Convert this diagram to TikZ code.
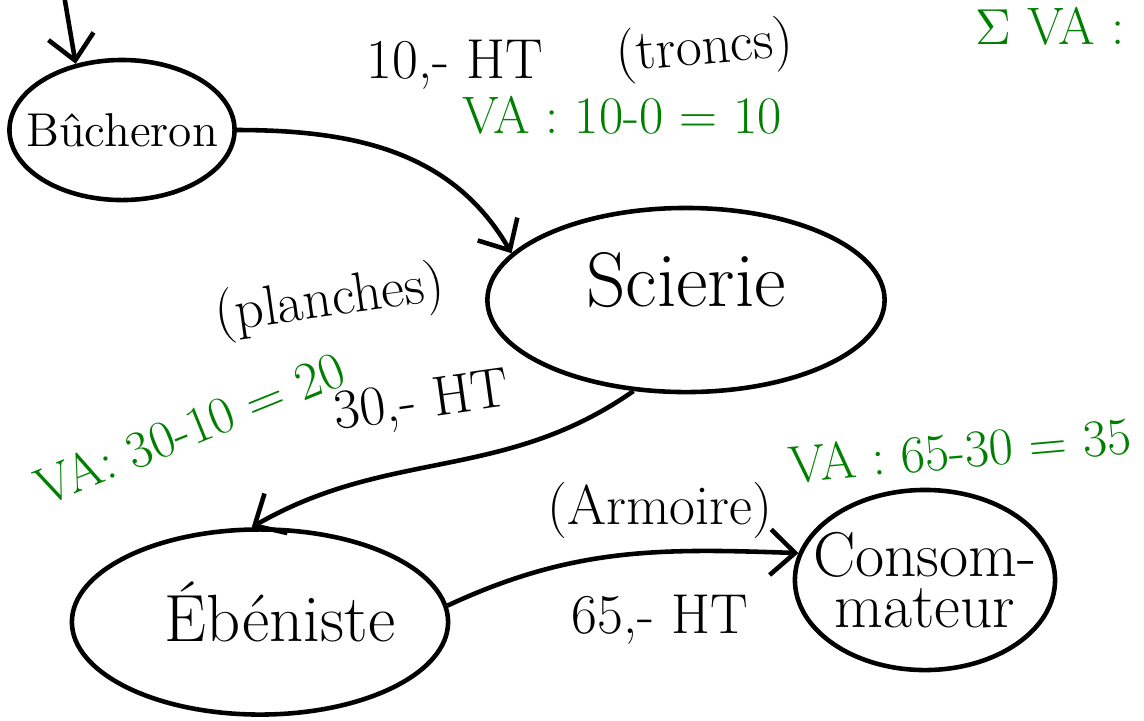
\documentclass[tikz,border=0pt]{standalone}
\usepackage{amsmath}
\usetikzlibrary{shapes.geometric,arrows.meta}
\definecolor{vagreen}{RGB}{0,128,0}
\begin{document}
\begin{tikzpicture}
  [x=0.01cm,y=-0.01cm,line width=1.3pt,
   every node/.style={font=\fontsize{16}{20}\selectfont},
   actor/.style={ellipse,draw,line width=1.3pt},
   va/.style={text=vagreen,font=\fontsize{15}{18}\selectfont},
   flow/.style={-{Straight Barb[length=7pt,width=13pt]}}]
  \useasboundingbox (0,0) rectangle (1144,720);
  \node[actor,minimum width=2.25cm,minimum height=1.4cm,
        label={[font=\fontsize{13.5}{16}\selectfont]center:Bûcheron}] (buch) at (122,130) {};
  \node[actor,minimum width=3.97cm,minimum height=1.84cm,
        label={[yshift=0.2cm,font=\fontsize{22}{26}\selectfont]center:Scierie}] (sci) at (686,300) {};
  \node[actor,minimum width=3.76cm,minimum height=1.85cm,
        label={[xshift=0.2cm,yshift=0.1cm,font=\fontsize{19}{23}\selectfont]center:Ébéniste}] (eb) at (260,622) {};
  \node[actor,minimum width=2.6cm,minimum height=1.8cm,
        label={[font=\fontsize{18}{23}\selectfont]center:\shortstack{Consom-\\mateur}}] (cons) at (925,580) {};
  \coordinate (top) at (64,-5);

  \node (ht1) at (455,65) {10,- HT};
  \node[rotate=5] (troncs) at (705,50) {(troncs)};
  \node[va] (va1) at (622,115) {VA : 10-0 = 10};
  \node[rotate=8] (planches) at (330,302) {(planches)};
  \node[rotate=8] (ht2) at (422,404) {30,- HT};
  \node[va,rotate=22] (va2) at (190,428) {VA: 30-10 = 20};
  \node (armoire) at (660,510) {(Armoire)};
  \node (ht3) at (660,620) {65,- HT};
  \node[va,rotate=5] (va3) at (960,450) {VA : 65-30 = 35};
  \node[va] (sumva) at (1050,26) {$\Sigma$ VA :};

  \draw[flow] (top) -- (buch.125);
  \draw[flow] (buch.east) to[out=0,in=120] (sci.165);
  \draw[flow] (sci.240) to[out=215,in=30] (eb.95);
  \draw[flow] (eb.5) to[out=25,in=178] (cons.168);
\end{tikzpicture}
\end{document}
